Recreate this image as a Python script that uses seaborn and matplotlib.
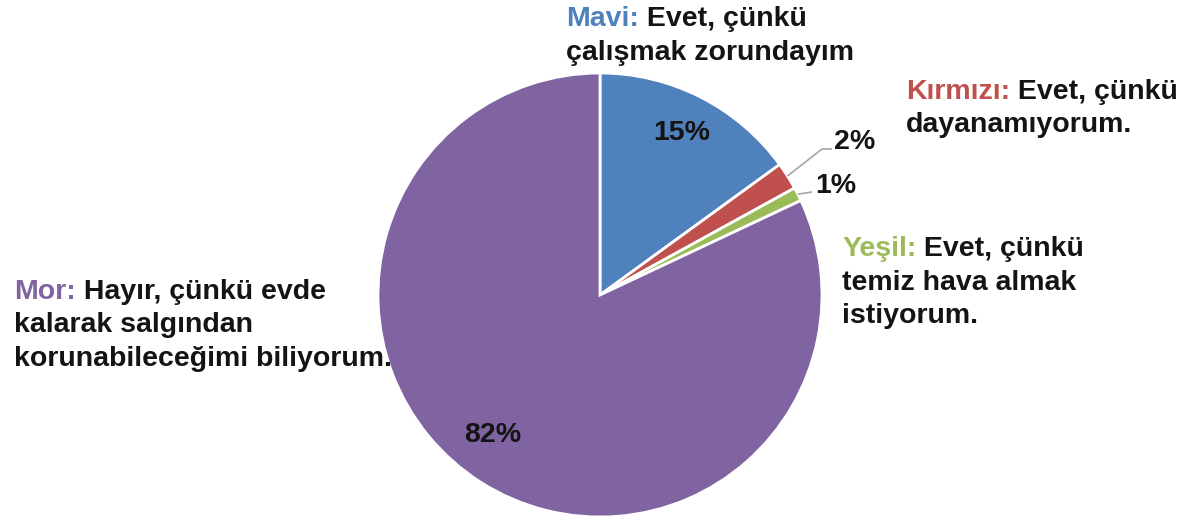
import matplotlib
matplotlib.use("Agg")
import matplotlib.pyplot as plt
import seaborn as sns
import numpy as np

# Survey answers: colour name, share (%), answer text lines
categories = ["Mavi", "Kırmızı", "Yeşil", "Mor"]
shares = [15, 2, 1, 82]
answers = [
    ["Evet, çünkü", "çalışmak zorundayım"],
    ["Evet, çünkü", "dayanamıyorum."],
    ["Evet, çünkü", "temiz hava almak", "istiyorum."],
    ["Hayır, çünkü evde", "kalarak salgından", "korunabileceğimi biliyorum."],
]
colors = ["#4F81BD", "#C0504D", "#9BBB59", "#8064A2"]

sns.set_theme(style="white")
plt.rcParams["font.family"] = ["Liberation Sans", "DejaVu Sans"]

W, H = 1189, 516
fig = plt.figure(figsize=(W / 100, H / 100), dpi=100)
ax = fig.add_axes([0, 0, 1, 1])

cx, cy, R = 600, H - 295, 222
wedges, _ = ax.pie(
    shares, colors=colors, startangle=90, counterclock=False,
    center=(cx, cy), radius=R,
    wedgeprops=dict(edgecolor="white", linewidth=2),
)
ax.set_xlim(0, W)
ax.set_ylim(0, H)
ax.set_aspect("equal")
ax.axis("off")

FS = 20.5
PFS = 20.5
LINE = 33.5
INK = "#141414"

# Category descriptions: coloured name followed by the answer text
desc_pos = {"Mavi": (566, 26), "Kırmızı": (906, 99), "Yeşil": (842, 256), "Mor": (14, 299)}
for name, lines, col in zip(categories, answers, colors):
    x, yb = desc_pos[name]
    t = ax.text(x, H - yb, name + ":", color=col, fontsize=FS,
                fontweight="bold", va="baseline", ha="left", zorder=3)
    ax.annotate(" " + lines[0], xy=(1, 0), xycoords=t, va="bottom", ha="left",
                fontsize=FS, fontweight="bold", color=INK, zorder=3)
    for i, ln in enumerate(lines[1:], start=1):
        ax.text(x, H - (yb + i * LINE), ln, color=INK, fontsize=FS,
                fontweight="bold", va="baseline", ha="left", zorder=3)

# Percentage labels inside the two large wedges
inside_pos = {"Mavi": (682, 133), "Mor": (493, 435)}
for name, val in zip(categories, shares):
    if name in inside_pos:
        px, py = inside_pos[name]
        ax.text(px, H - py, f"{val}%", fontsize=PFS, fontweight="bold",
                color=INK, ha="center", va="center")

# Small wedges: labels outside with leader lines from the wedge rim
leader = {"Kırmızı": [(822, 149), (832, 149)], "Yeşil": [(812, 192)]}
label_at = {"Kırmızı": (834, 142), "Yeşil": (815, 186)}
for w, name, val in zip(wedges, categories, shares):
    if name not in leader:
        continue
    mid = np.deg2rad((w.theta1 + w.theta2) / 2)
    sx, sy = cx + R * np.cos(mid), cy + R * np.sin(mid)
    xs = [sx] + [p[0] for p in leader[name]]
    ys = [sy] + [H - p[1] for p in leader[name]]
    ax.plot(xs, ys, color="#A6A6A6", lw=1.2, solid_capstyle="butt")
    lx, ly = label_at[name]
    ax.text(lx, H - ly, f"{val}%", fontsize=PFS, fontweight="bold",
            color=INK, ha="left", va="center")

fig.savefig("out.png", dpi=100)
